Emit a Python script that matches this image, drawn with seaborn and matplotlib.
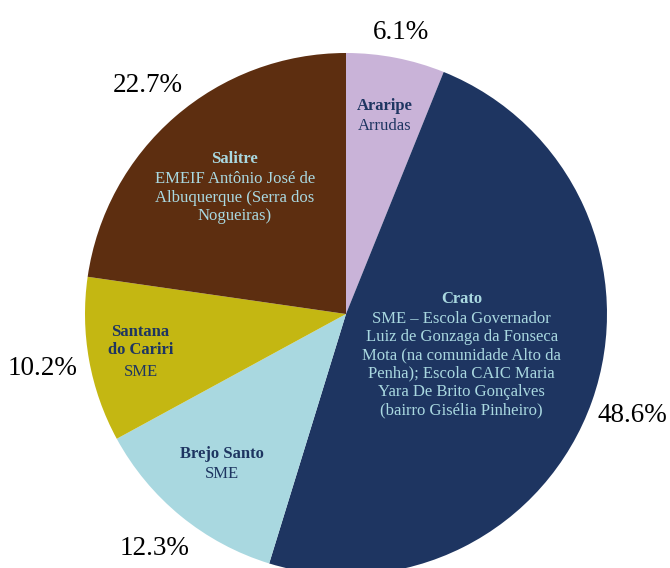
import numpy as np
import seaborn as sns
import matplotlib.pyplot as plt

sns.set_theme(style='white')
plt.rcParams['font.family'] = ['Liberation Serif', 'DejaVu Serif']

# data
names = ['Araripe', 'Crato', 'Brejo Santo', 'Santana\ndo Cariri', 'Salitre']
details = ['Arrudas',
           'SME – Escola Governador\nLuiz de Gonzaga da Fonseca\nMota (na comunidade Alto da\n'
           'Penha); Escola CAIC Maria\nYara De Brito Gonçalves\n(bairro Gisélia Pinheiro)',
           'SME',
           'SME',
           'EMEIF Antônio José de\nAlbuquerque (Serra dos\nNogueiras)']
shares = [6.1, 48.6, 12.3, 10.2, 22.7]

colors = ['#c9b3d8', '#1e3561', '#a9d8e0', '#c4b712', '#5d2e10']
text_colors = ['#1e3561', '#a9d8e0', '#1e3561', '#1e3561', '#a9d8e0']
inner_r = [0.77, 0.47, 0.75, 0.80, 0.65]
inner_dy = [-1, -4, 0, -2, -4]
outer_r = [1.10, 1.165, 1.16, 1.18, 1.16]

fig = plt.figure(figsize=(6.7, 5.68), dpi=100)
ax = fig.add_axes([0, 0, 1, 1])

R = 261
wedges, _ = ax.pie(shares, colors=colors, startangle=90, counterclock=False,
                   radius=R, center=(0, 0), wedgeprops=dict(linewidth=0))

fs = 12
ls = 1.2
L = fs * ls
for w, nm, dt, tc, ri, dy, ro, s in zip(wedges, names, details, text_colors,
                                         inner_r, inner_dy, outer_r, shares):
    ang = np.deg2rad((w.theta1 + w.theta2) / 2)
    x, y = np.cos(ang) * R * ri, np.sin(ang) * R * ri
    nb = nm.count('\n') + 1
    ns = dt.count('\n') + 1
    H = (nb + ns) * L
    ax.annotate(nm, (x, y), xytext=(0, H / 2 + dy), textcoords='offset points',
                ha='center', va='top', fontsize=fs, fontweight='bold',
                color=tc, linespacing=ls)
    ax.annotate(dt, (x, y), xytext=(0, H / 2 - nb * L + dy), textcoords='offset points',
                ha='center', va='top', fontsize=fs, color=tc, linespacing=ls)
    xo, yo = np.cos(ang) * R * ro, np.sin(ang) * R * ro
    ax.text(xo, yo, f'{s:.1f}%', ha='center', va='center', fontsize=19.5, color='black')

ax.set_xlim(-346, 324)
ax.set_ylim(-254, 314)
ax.set_aspect('equal')
ax.axis('off')

fig.savefig('out.png', dpi=100)
